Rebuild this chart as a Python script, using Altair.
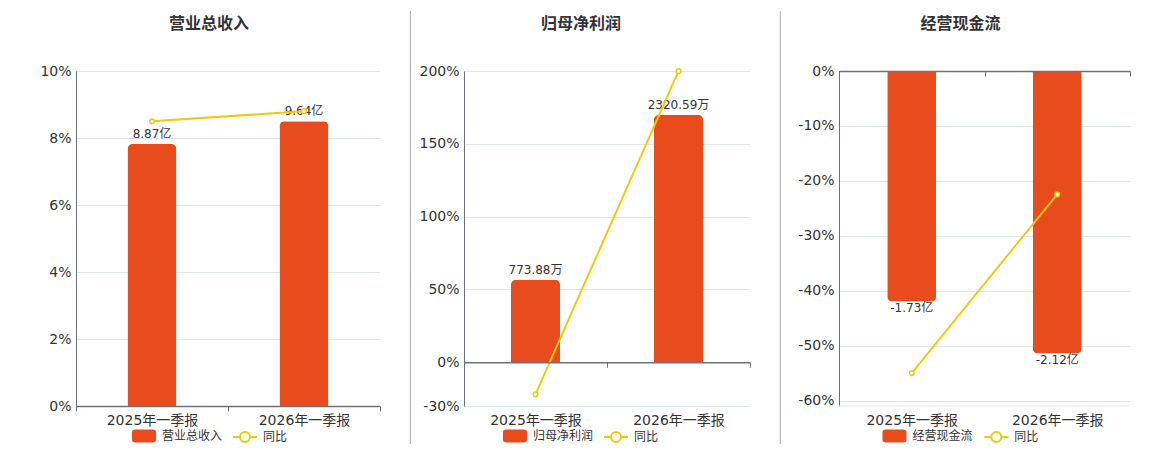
import altair as alt
import pandas as pd

# ---------------- data ----------------
periods = ["2025年一季报", "2026年一季报"]
yoy_name = "同比"

revenue_name = "营业总收入"
revenue = [8.87, 9.64]
revenue_labels = ["8.87亿", "9.64亿"]
revenue_yoy = [8.5, 8.8]
revenue_ticks = [0, 2, 4, 6, 8, 10]

profit_name = "归母净利润"
profit = [773.88, 2320.59]
profit_labels = ["773.88万", "2320.59万"]
profit_yoy = [-22.0, 199.86]
profit_ticks = [-30, 0, 50, 100, 150, 200]

cash_name = "经营现金流"
cash = [-1.73, -2.12]
cash_labels = ["-1.73亿", "-2.12亿"]
cash_yoy = [-55.0, -22.45]
cash_ticks = [0, -10, -20, -30, -40, -50, -60]

# ---------------- styles ----------------
BAR = "#E84C1D"
LINE = "#F2C80F"
GRID = "#E0E6F1"
AXIS = "#6E7079"
TEXT = "#333333"
SEP = "#AAAAAA"
H = 335

RECT_PATH = ("M-0.75,-0.54 L0.75,-0.54 Q1,-0.54 1,-0.29 L1,0.29 Q1,0.54 0.75,0.54 "
             "L-0.75,0.54 Q-1,0.54 -1,0.29 L-1,-0.29 Q-1,-0.54 -0.75,-0.54 Z")
LINE_PATH = ("M-1,0 L-0.42,0 M0.42,0 L1,0 M-0.42,0 A0.42,0.42 0 1,1 0.42,0 "
             "A0.42,0.42 0 1,1 -0.42,0")


def make_panel(name, amounts, labels, yoy, ticks, pct_domain, bar_domain, width,
               y_extent, title_x, legend_x, sep_x, label_dy, corners, floor_value=None):
    df = pd.DataFrame({
        "period": periods,
        "amount": amounts,
        "label": labels,
        "yoy": yoy,
        "series": [name] * len(periods),
        "yoy_series": [yoy_name] * len(periods),
    })
    lo, hi = pct_domain
    zero_px = H * (0 - lo) / (hi - lo)

    x_enc = alt.X(
        "period:N", sort=periods,
        scale=alt.Scale(paddingInner=0, paddingOuter=0),
        axis=alt.Axis(title=None, orient="bottom", offset=-zero_px, labelAngle=0,
                      labelFontSize=14, labelColor=TEXT, labelPadding=2.5 + zero_px,
                      domainColor=AXIS, domainWidth=1.5, tickColor=AXIS, tickSize=5,
                      tickWidth=1, tickBand="extent", grid=False, zindex=1),
    )
    bar_scale = alt.Scale(domain=bar_domain, nice=False, zero=False)
    base = alt.Chart(df)

    bars = base.mark_bar(size=49, **corners).encode(
        x=x_enc,
        y=alt.Y("amount:Q", scale=bar_scale, axis=None),
        color=alt.Color("series:N", scale=alt.Scale(domain=[name], range=[BAR]),
                        legend=alt.Legend(orient="none", legendX=legend_x[0], legendY=353,
                                          title=None, symbolType=RECT_PATH, symbolSize=576,
                                          symbolStrokeWidth=0, labelFontSize=12,
                                          labelColor=TEXT, labelOffset=6)),
    )
    bar_text = base.mark_text(dy=label_dy, fontSize=12, color=TEXT, baseline="middle").encode(
        x=x_enc,
        y=alt.Y("amount:Q", scale=bar_scale, axis=None),
        text="label:N",
    )
    bar_layer = alt.layer(bars, bar_text)

    y_pct = alt.Y(
        "yoy:Q",
        scale=alt.Scale(domain=pct_domain, nice=False, zero=False),
        axis=alt.Axis(title=None, orient="left", values=ticks, labelExpr="datum.value + '%'",
                      grid=True, gridColor=GRID, gridWidth=1, domain=True, domainColor=AXIS,
                      domainWidth=1, ticks=False, labelPadding=5, labelFontSize=14,
                      labelColor=TEXT, minExtent=y_extent),
    )
    line = base.mark_line(strokeWidth=2).encode(
        x=x_enc,
        y=y_pct,
        color=alt.Color("yoy_series:N", scale=alt.Scale(domain=[yoy_name], range=[LINE]),
                        legend=alt.Legend(orient="none", legendX=legend_x[1], legendY=353,
                                          title=None, symbolType=LINE_PATH, symbolSize=576,
                                          symbolStrokeWidth=2, symbolFillColor="white",
                                          labelFontSize=12, labelColor=TEXT, labelOffset=5)),
    )
    pts = base.mark_point(filled=True, fill="white", stroke=LINE, strokeWidth=1.5,
                          size=22, opacity=1).encode(x=x_enc, y=y_pct)
    pct_items = [line, pts]
    if floor_value is not None:
        floor = alt.Chart(pd.DataFrame({"f": [floor_value]})).mark_rule(
            color=GRID, strokeWidth=1).encode(y=alt.Y("f:Q"))
        pct_items.insert(0, floor)
    pct_layer = alt.layer(*pct_items)

    title = alt.Chart(pd.DataFrame({"t": [name]})).mark_text(
        fontSize=16, fontWeight="bold", color=TEXT, align="center", baseline="middle"
    ).encode(x=alt.value(title_x), y=alt.value(-47), text="t:N")

    layers = [bar_layer, pct_layer, title]
    if sep_x is not None:
        sep = alt.Chart(pd.DataFrame({"s": [0]})).mark_rule(color=SEP, strokeWidth=1).encode(
            x=alt.value(sep_x), y=alt.value(-60), y2=alt.value(373))
        layers.append(sep)

    return alt.layer(*layers).resolve_scale(y="independent", color="independent").properties(
        width=width, height=H)


p1 = make_panel(revenue_name, revenue, revenue_labels, revenue_yoy, revenue_ticks,
                [0, 10], [0, 11.34], 304, 63, 133, (56, 156), None, -10,
                dict(cornerRadiusTopLeft=5, cornerRadiusTopRight=5))
p2 = make_panel(profit_name, profit, profit_labels, profit_yoy, profit_ticks,
                [-30, 200], [-409.5, 2730.1], 286, 63, 117, (39, 139), -53.6, -10,
                dict(cornerRadiusTopLeft=5, cornerRadiusTopRight=5))
p3 = make_panel(cash_name, cash, cash_labels, cash_yoy, cash_ticks,
                [-61, 0], [-2.515, 0], 291, 67.5, 121.5, (43.5, 144.3), -58.7, 7,
                dict(cornerRadiusBottomLeft=5, cornerRadiusBottomRight=5), floor_value=-61)

chart = alt.hconcat(p1, p2, p3, spacing=20).properties(
    padding={"left": 5, "top": 2, "right": 5, "bottom": 0}
).configure(font="DejaVu Sans, Noto Sans CJK SC").configure_view(stroke=None)

chart.save("out.html", embed_options={"renderer": "svg", "actions": False})
